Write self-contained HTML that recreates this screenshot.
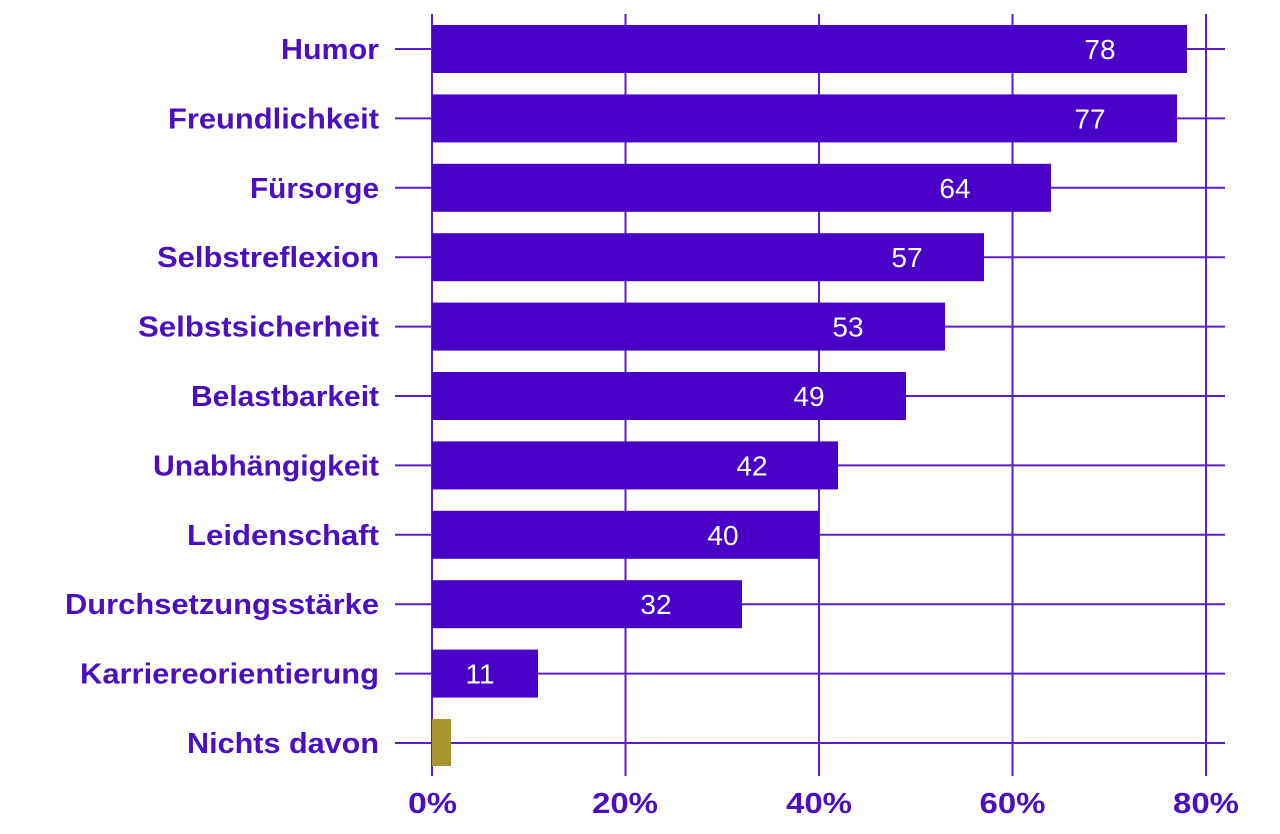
<!DOCTYPE html>
<html><head><meta charset="utf-8"><style>body{margin:0;background:#fff}svg{display:block}</style></head>
<body>
<svg width="1280" height="834" xmlns="http://www.w3.org/2000/svg" font-family="Liberation Sans, sans-serif">
<g stroke="#5a1fc8" stroke-width="2">
<line x1="432" y1="14" x2="432" y2="776"/><line x1="625.5" y1="14" x2="625.5" y2="776"/><line x1="819" y1="14" x2="819" y2="776"/><line x1="1012.5" y1="14" x2="1012.5" y2="776"/><line x1="1206" y1="14" x2="1206" y2="776"/>
<line x1="395" y1="49" x2="1225" y2="49"/><line x1="395" y1="118.4" x2="1225" y2="118.4"/><line x1="395" y1="187.8" x2="1225" y2="187.8"/><line x1="395" y1="257.2" x2="1225" y2="257.2"/><line x1="395" y1="326.6" x2="1225" y2="326.6"/><line x1="395" y1="396" x2="1225" y2="396"/><line x1="395" y1="465.4" x2="1225" y2="465.4"/><line x1="395" y1="534.8" x2="1225" y2="534.8"/><line x1="395" y1="604.2" x2="1225" y2="604.2"/><line x1="395" y1="673.6" x2="1225" y2="673.6"/><line x1="395" y1="743" x2="1225" y2="743"/>
</g>
<g fill="#4b00c8">
<rect x="432" y="25" width="755" height="48"/>
<rect x="432" y="94.4" width="745" height="48"/>
<rect x="432" y="163.8" width="619" height="48"/>
<rect x="432" y="233.2" width="552" height="48"/>
<rect x="432" y="302.6" width="513" height="48"/>
<rect x="432" y="372" width="474" height="48"/>
<rect x="432" y="441.4" width="406" height="48"/>
<rect x="432" y="510.8" width="387" height="48"/>
<rect x="432" y="580.2" width="310" height="48"/>
<rect x="432" y="649.6" width="106" height="48"/>
</g>
<rect x="432" y="719" width="19" height="47" fill="#a89530"/>
<g fill="#fff" font-size="28" text-anchor="middle">
<text x="1100" y="59">78</text><text x="1090" y="128.4">77</text><text x="955" y="197.8">64</text><text x="907" y="267.2">57</text><text x="848" y="336.6">53</text><text x="809" y="406">49</text><text x="752" y="475.4">42</text><text x="723" y="544.8">40</text><text x="656" y="614.2">32</text><text x="480" y="683.6">11</text>
</g>
<g fill="#4a10c0" font-size="29" font-weight="bold" text-anchor="end">
<text x="379" y="59" textLength="98" lengthAdjust="spacingAndGlyphs">Humor</text>
<text x="379" y="128.4" textLength="211" lengthAdjust="spacingAndGlyphs">Freundlichkeit</text>
<text x="379" y="197.8" textLength="129" lengthAdjust="spacingAndGlyphs">Fürsorge</text>
<text x="379" y="267.2" textLength="222" lengthAdjust="spacingAndGlyphs">Selbstreflexion</text>
<text x="379" y="336.6" textLength="241" lengthAdjust="spacingAndGlyphs">Selbstsicherheit</text>
<text x="379" y="406" textLength="188" lengthAdjust="spacingAndGlyphs">Belastbarkeit</text>
<text x="379" y="475.4" textLength="226" lengthAdjust="spacingAndGlyphs">Unabhängigkeit</text>
<text x="379" y="544.8" textLength="192" lengthAdjust="spacingAndGlyphs">Leidenschaft</text>
<text x="379" y="614.2" textLength="314" lengthAdjust="spacingAndGlyphs">Durchsetzungsstärke</text>
<text x="379" y="683.6" textLength="299" lengthAdjust="spacingAndGlyphs">Karriereorientierung</text>
<text x="379" y="753" textLength="192" lengthAdjust="spacingAndGlyphs">Nichts davon</text>
</g>
<g fill="#4a10c0" font-size="29" font-weight="bold">
<text x="408" y="813" textLength="49" lengthAdjust="spacingAndGlyphs">0%</text>
<text x="592" y="813" textLength="66" lengthAdjust="spacingAndGlyphs">20%</text>
<text x="786" y="813" textLength="66" lengthAdjust="spacingAndGlyphs">40%</text>
<text x="979.5" y="813" textLength="66" lengthAdjust="spacingAndGlyphs">60%</text>
<text x="1173" y="813" textLength="66" lengthAdjust="spacingAndGlyphs">80%</text>
</g>
</svg>
</body></html>
